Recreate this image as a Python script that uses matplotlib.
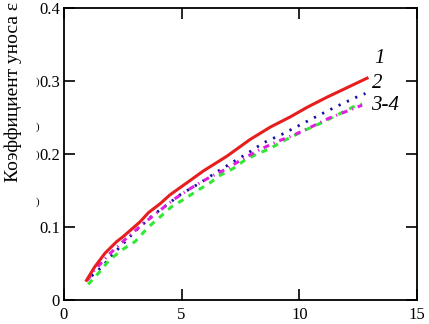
import numpy as np
import matplotlib.pyplot as plt

# curve 1 (red, solid)
x1 = [0.96, 1.3, 1.74, 2.24, 2.52, 3.23, 3.6, 4.09, 4.5, 5.5, 5.93, 6.92, 7.91, 8.77, 9.62, 10.33, 11.18, 12.03, 12.88]
y1 = [0.027, 0.045, 0.064, 0.080, 0.087, 0.107, 0.120, 0.132, 0.144, 0.167, 0.177, 0.197, 0.220, 0.237, 0.251, 0.264, 0.278, 0.291, 0.304]
# curve 2 (blue, dotted)
x2 = [1.18, 1.6, 2.24, 3.02, 3.77, 4.4, 4.97, 5.76, 6.52, 7.28, 7.7, 8.13, 8.48, 9.26, 10.04, 10.82, 11.63, 12.43, 12.81]
y2 = [0.033, 0.045, 0.068, 0.094, 0.116, 0.131, 0.145, 0.160, 0.176, 0.191, 0.199, 0.208, 0.2155, 0.227, 0.240, 0.253, 0.266, 0.278, 0.283]
# curve 3 (magenta, dash-dot)
x3 = [1.0, 1.25, 1.89, 2.6, 3.3, 4.06, 4.72, 5.43, 6.18, 6.92, 7.63, 8.34, 9.05, 9.76, 10.5, 11.25, 11.96, 12.67]
y3 = [0.027, 0.039, 0.0616, 0.083, 0.1027, 0.1224, 0.139, 0.154, 0.168, 0.180, 0.194, 0.2064, 0.217, 0.226, 0.237, 0.249, 0.258, 0.267]
# curve 4 (green, dashed)
x4 = [1.03, 1.53, 1.93, 2.5, 3.02, 3.59, 4.09, 4.58, 5.1, 5.62, 6.18, 6.64, 7.18, 7.7, 8.2, 8.77, 9.26, 10.26, 10.82, 11.89, 12.38, 12.67]
y4 = [0.0215, 0.039, 0.0548, 0.0694, 0.080, 0.100, 0.114, 0.128, 0.138, 0.149, 0.160, 0.171, 0.180, 0.192, 0.200, 0.2077, 0.217, 0.233, 0.241, 0.258, 0.266, 0.2685]

xticks = [0, 5, 10, 15]
yticks = [0, 0.1, 0.2, 0.3, 0.4]
ytick_labels = ['0', '0.1', '0.2', '0.3', '0.4']
curve_labels = ['1', '2', '3-4']

plt.rcParams['font.family'] = ['Liberation Serif', 'DejaVu Serif']

fig = plt.figure(figsize=(4.29, 3.24), dpi=100)
ax = fig.add_axes([0.149, 0.074, 0.823, 0.901])

ax.plot(x2, y2, color='#1010a0', lw=2.0, linestyle=(0, (0.8, 2.5)))
ax.plot(x4, y4, color='#33e833', lw=2.2, linestyle=(0, (2.0, 2.0)))
ax.plot(x3, y3, color='#e020e0', lw=2.2, linestyle=(0, (2.0, 1.6, 0.4, 1.6)))
ax.plot(x1, y1, color='#e61e1e', lw=2.2)

ax.set_xlim(0, 15)
ax.set_ylim(0, 0.4)
ax.set_xticks(xticks)
ax.set_xticklabels([str(t) for t in xticks])
ax.set_yticks(yticks)
ax.set_yticklabels(ytick_labels)
ax.tick_params(direction='in', length=8, width=1.2, top=True, right=True,
               labelsize=12, pad=3)
ax.tick_params(axis='x', pad=5)
for s in ax.spines.values():
    s.set_linewidth(1.3)

ax.text(13.2, 0.325, curve_labels[0], fontsize=15, style='italic')
ax.text(13.1, 0.291, curve_labels[1], fontsize=15, style='italic')
ax.text(13.05, 0.260, curve_labels[2], fontsize=15, style='italic')

fig.text(13 / 429, 1 - 182 / 324, 'Коэффициент уноса ε', rotation=90,
         ha='center', va='bottom', fontsize=14)
for yp in [82, 127, 155, 202]:
    fig.text(37 / 429, 1 - yp / 324, ')', ha='center', va='center', fontsize=8)

fig.savefig('out.png', dpi=100)
